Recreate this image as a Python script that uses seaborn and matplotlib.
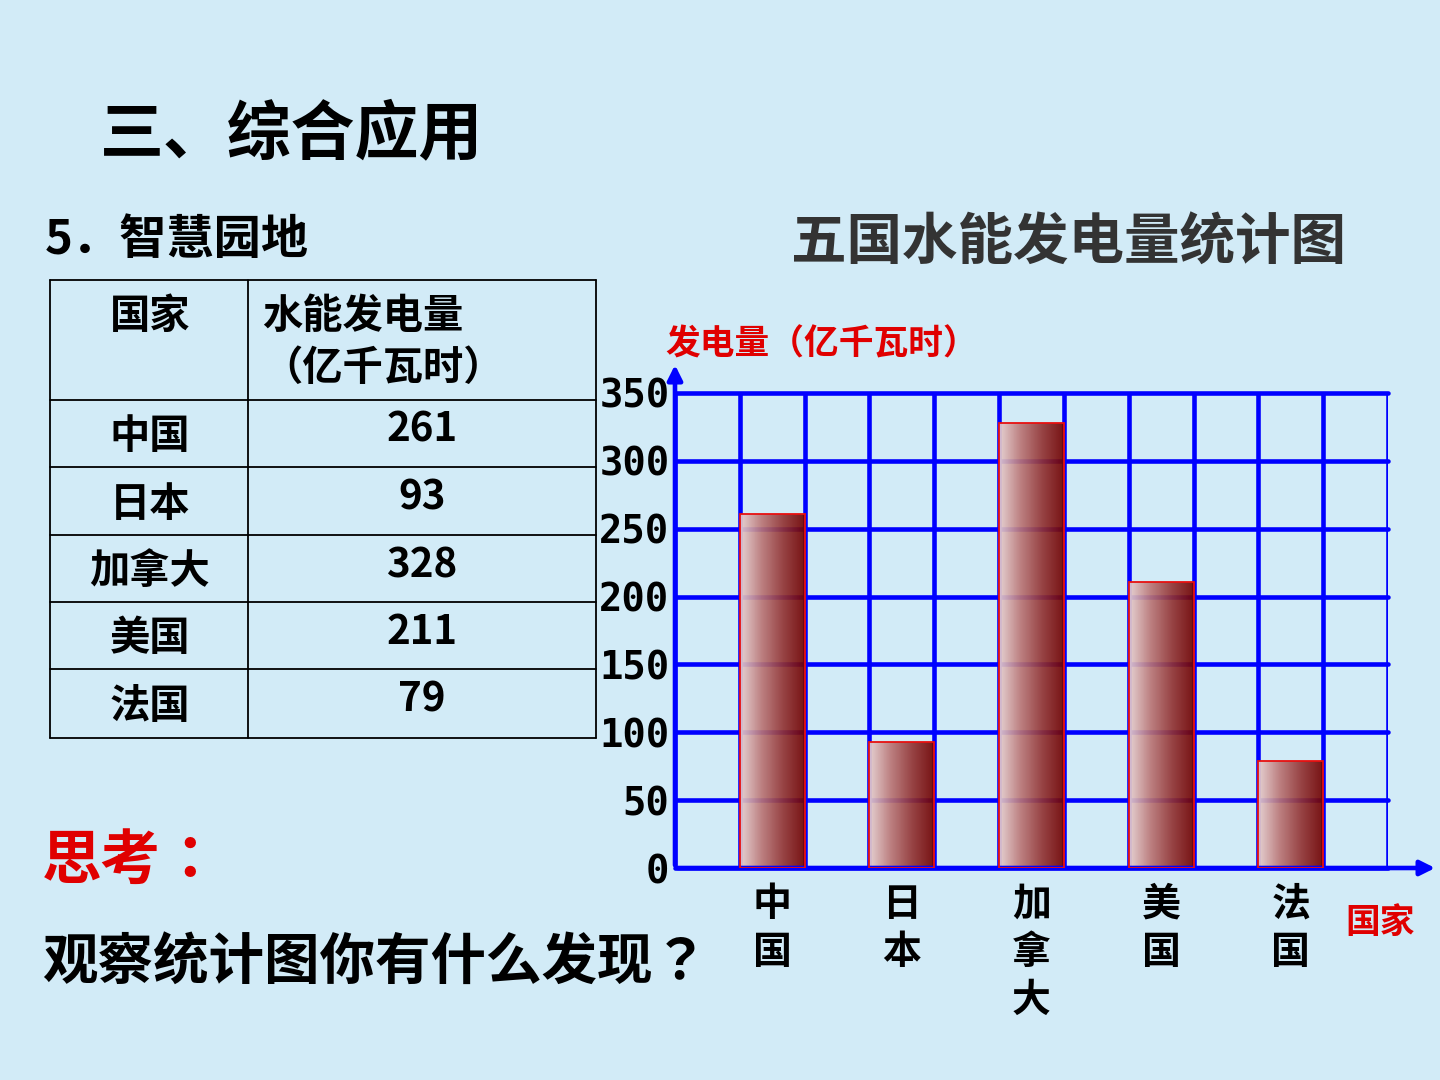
import matplotlib
matplotlib.use("Agg")
import matplotlib.pyplot as plt
import numpy as np
import pandas as pd
import seaborn as sns
from matplotlib.colors import LinearSegmentedColormap

# %% data
countries = ["中国", "日本", "加拿大", "美国", "法国"]
power = [261, 93, 328, 211, 79]
y_ticks = [0, 50, 100, 150, 200, 250, 300, 350]

df = pd.DataFrame({"国家": countries, "发电量": power})

# %% style
bg = "#d2ebf7"
blue = "#0000ff"
red = "#e00000"
sns.set_theme(style="white")
plt.rcParams["font.family"] = ["Noto Sans CJK SC", "DejaVu Sans"]
plt.rcParams["font.weight"] = "bold"
plt.rcParams["text.color"] = "black"
plt.rcParams["xtick.color"] = "black"
plt.rcParams["ytick.color"] = "black"
W = "bold"
JP = ["Noto Sans CJK JP", "DejaVu Sans"]

fig = plt.figure(figsize=(14.4, 10.8), dpi=100, facecolor=bg)

# overlay in pixel coords for slide text + table
ov = fig.add_axes([0, 0, 1, 1], zorder=0)
ov.set_xlim(0, 1440)
ov.set_ylim(1080, 0)
ov.axis("off")

ov.text(100, 135, "三、综合应用", fontsize=46, fontweight=W, va="center", ha="left")
ov.text(45, 240, "5．智慧园地", fontsize=34, fontweight=W, va="center", ha="left")
ov.text(1069, 243, "五国水能发电量统计图", fontsize=40, fontweight=W,
        color="#333333", va="center", ha="center")
ov.text(665, 344, "发电量（亿千瓦时）", fontsize=25, fontweight=W,
        color=red, va="center", ha="left")
ov.text(42, 862, "思考：", fontsize=43, fontweight=W, color=red, va="center",
        family=JP)
ov.text(42, 963, "观察统计图你有什么发现？", fontsize=40, fontweight=W, va="center",
        family=JP)
ov.text(1345, 922, "国家", fontsize=25, fontweight=W, color=red, va="center")

# table
tl, tm, tr = 50, 248, 596
rows = [280, 400, 467, 535, 602, 669, 738]
for y in rows:
    ov.plot([tl, tr], [y, y], color="black", lw=1.3)
for x in [tl, tm, tr]:
    ov.plot([x, x], [rows[0], rows[-1]], color="black", lw=1.3)
ov.text(150, 316, "国家", fontsize=29, fontweight=W, ha="center", va="center")
ov.text(262, 316, "水能发电量", fontsize=29, fontweight=W, ha="left", va="center")
ov.text(262, 368, "（亿千瓦时）", fontsize=29, fontweight=W, ha="left", va="center")
for i, (c, v) in enumerate(zip(countries, power)):
    yc = (rows[i + 1] + rows[i + 2]) / 2
    ov.text(150, yc + 3, c, fontsize=29, fontweight=W, ha="center", va="center")
    ov.text(422, yc - 3, str(v), fontsize=29, fontweight=W, ha="center", va="center")

# %% chart
ax = fig.add_axes([675 / 1440, 1 - 868 / 1080, 713 / 1440, 475 / 1080], zorder=1)
ax.set_facecolor("none")
sns.barplot(data=df, x="国家", y="发电量", ax=ax, width=0.5,
            facecolor="none", edgecolor="#e81010", linewidth=1.3, zorder=4)

cmap = LinearSegmentedColormap.from_list(
    "bar", ["#e8d0d0", "#bb7676", "#923434", "#700000"])
grad = np.linspace(0, 1, 256).reshape(1, -1)
for p in ax.patches:
    x0, w, h = p.get_x(), p.get_width(), p.get_height()
    im = ax.imshow(grad, extent=[x0, x0 + w, 0, h], aspect="auto", cmap=cmap,
                   alpha=0.92, zorder=3, interpolation="bilinear")
    im.set_clip_path(p)

ax.set_xlim(-0.75, 4.75)
ax.set_ylim(0, 350)
ax.set_xticks(np.arange(-0.75, 4.76, 0.5), minor=True)
ax.set_yticks(y_ticks)
ax.set_yticklabels([str(t) for t in y_ticks], family="DejaVu Sans Mono",
                   fontsize=28, fontweight="bold")
ax.set_xticks(range(len(countries)))
ax.set_xticklabels(["\n".join(c) for c in countries], fontsize=28,
                   fontweight=W, linespacing=1.3, va="top")
ax.tick_params(axis="both", which="both", length=0)
ax.tick_params(axis="y", pad=4)
ax.tick_params(axis="x", pad=12)
ax.grid(True, which="minor", axis="x", color=blue, lw=3.3)
ax.grid(True, which="major", axis="y", color=blue, lw=3.3)
ax.grid(False, which="major", axis="x")
ax.set_axisbelow(True)
for gl in ax.get_xgridlines() + ax.get_ygridlines():
    gl.set_clip_on(False)
for s in ax.spines.values():
    s.set_visible(False)
ax.set_xlabel("")
ax.set_ylabel("")

# axis arrows
ax.annotate("", xy=(0, 1.065), xycoords="axes fraction", xytext=(0, 0),
            arrowprops=dict(arrowstyle="-|>", color=blue, lw=3.3, mutation_scale=22),
            annotation_clip=False)
ax.annotate("", xy=(1.07, 0), xycoords="axes fraction", xytext=(0, 0),
            arrowprops=dict(arrowstyle="-|>", color=blue, lw=3.3, mutation_scale=22),
            annotation_clip=False)

fig.savefig("out.png", dpi=100, facecolor=bg)
